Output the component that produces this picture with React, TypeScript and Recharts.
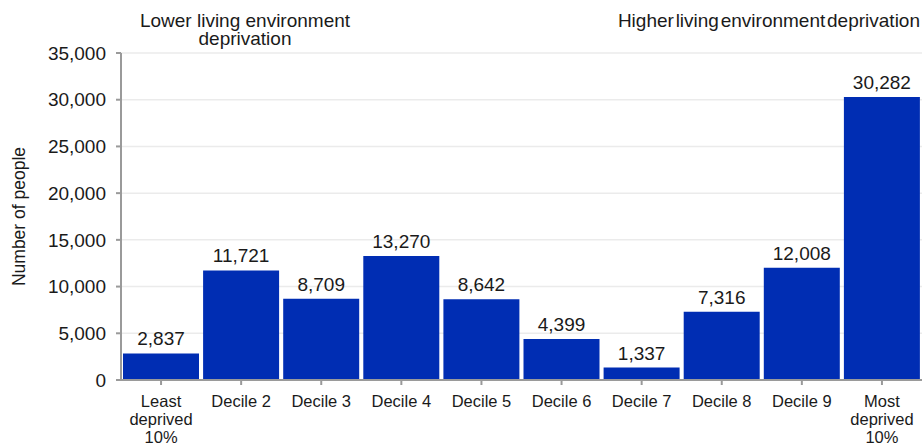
import React from "react";
import {
  BarChart,
  Bar,
  XAxis,
  YAxis,
  CartesianGrid,
  LabelList,
} from "recharts";

const categories = [
  "Least deprived 10%",
  "Decile 2",
  "Decile 3",
  "Decile 4",
  "Decile 5",
  "Decile 6",
  "Decile 7",
  "Decile 8",
  "Decile 9",
  "Most deprived 10%",
];

const people = [2837, 11721, 8709, 13270, 8642, 4399, 1337, 7316, 12008, 30282];

const yTicks = [0, 5000, 10000, 15000, 20000, 25000, 30000, 35000];

const data = categories.map((name, i) => ({ name, value: people[i] }));

const FONT = '"Liberation Sans", Arial, sans-serif';
const BAR_COLOR = "#002db3";

function formatNumber(v: number): string {
  return v.toLocaleString("en-GB");
}

// wrap long category names (the 10% ends) onto separate lines
function CategoryTick(props: any) {
  const { x, y, payload } = props;
  const label: string = payload.value;
  const lines = label.startsWith("Decile") ? [label] : label.split(" ");
  return (
    <text
      x={x}
      y={y + 20}
      textAnchor="middle"
      fill="#1a1a1a"
      fontSize={16.5}
      fontFamily={FONT}
    >
      {lines.map((line, i) => (
        <tspan key={i} x={x} dy={i === 0 ? 0 : 18}>
          {line}
        </tspan>
      ))}
    </text>
  );
}

export default function App() {
  return (
    <div
      style={{
        position: "absolute",
        left: 0,
        top: 0,
        width: 924,
        height: 444,
        background: "#fff",
        fontFamily: FONT,
      }}
    >
      <BarChart
        width={924}
        height={444}
        data={data}
        margin={{ top: 53, right: 2, bottom: 4, left: 0 }}
        barCategoryGap={2}
      >
        <CartesianGrid vertical={false} stroke="#ebebeb" strokeWidth={1.5} />
        <XAxis
          dataKey="name"
          height={60}
          interval={0}
          tick={<CategoryTick />}
          axisLine={{ stroke: "#9a9a9a", strokeWidth: 2 }}
          tickLine={{ stroke: "#9a9a9a", strokeWidth: 2 }}
          tickSize={5}
        />
        <YAxis
          width={121}
          domain={[0, 35000]}
          ticks={yTicks}
          tickFormatter={formatNumber}
          tick={{ fill: "#1a1a1a", fontSize: 19, fontFamily: FONT }}
          axisLine={{ stroke: "#9a9a9a", strokeWidth: 2 }}
          tickLine={{ stroke: "#9a9a9a", strokeWidth: 2 }}
          tickSize={5}
          tickMargin={10}
          label={{
            value: "Number of people",
            angle: -90,
            position: "insideLeft",
            offset: 19,
            style: {
              textAnchor: "middle",
              fill: "#1a1a1a",
              fontSize: 17.5,
              fontFamily: FONT,
            },
          }}
        />
        <Bar dataKey="value" fill={BAR_COLOR} isAnimationActive={false}>
          <LabelList
            dataKey="value"
            position="top"
            offset={8}
            formatter={(v: any) => formatNumber(Number(v))}
            style={{ fill: "#1a1a1a", fontSize: 19, fontFamily: FONT }}
          />
        </Bar>
      </BarChart>
      <div
        style={{
          position: "absolute",
          left: 115,
          top: 12,
          width: 260,
          textAlign: "center",
          fontSize: 19,
          lineHeight: "18px",
          color: "#1a1a1a",
        }}
      >
        Lower living environment
        <br />
        deprivation
      </div>
      <div
        style={{
          position: "absolute",
          right: 4,
          top: 12,
          fontSize: 19,
          lineHeight: "18px",
          color: "#1a1a1a",
          whiteSpace: "nowrap",
          wordSpacing: -3.5,
        }}
      >
        Higher living environment deprivation
      </div>
    </div>
  );
}
